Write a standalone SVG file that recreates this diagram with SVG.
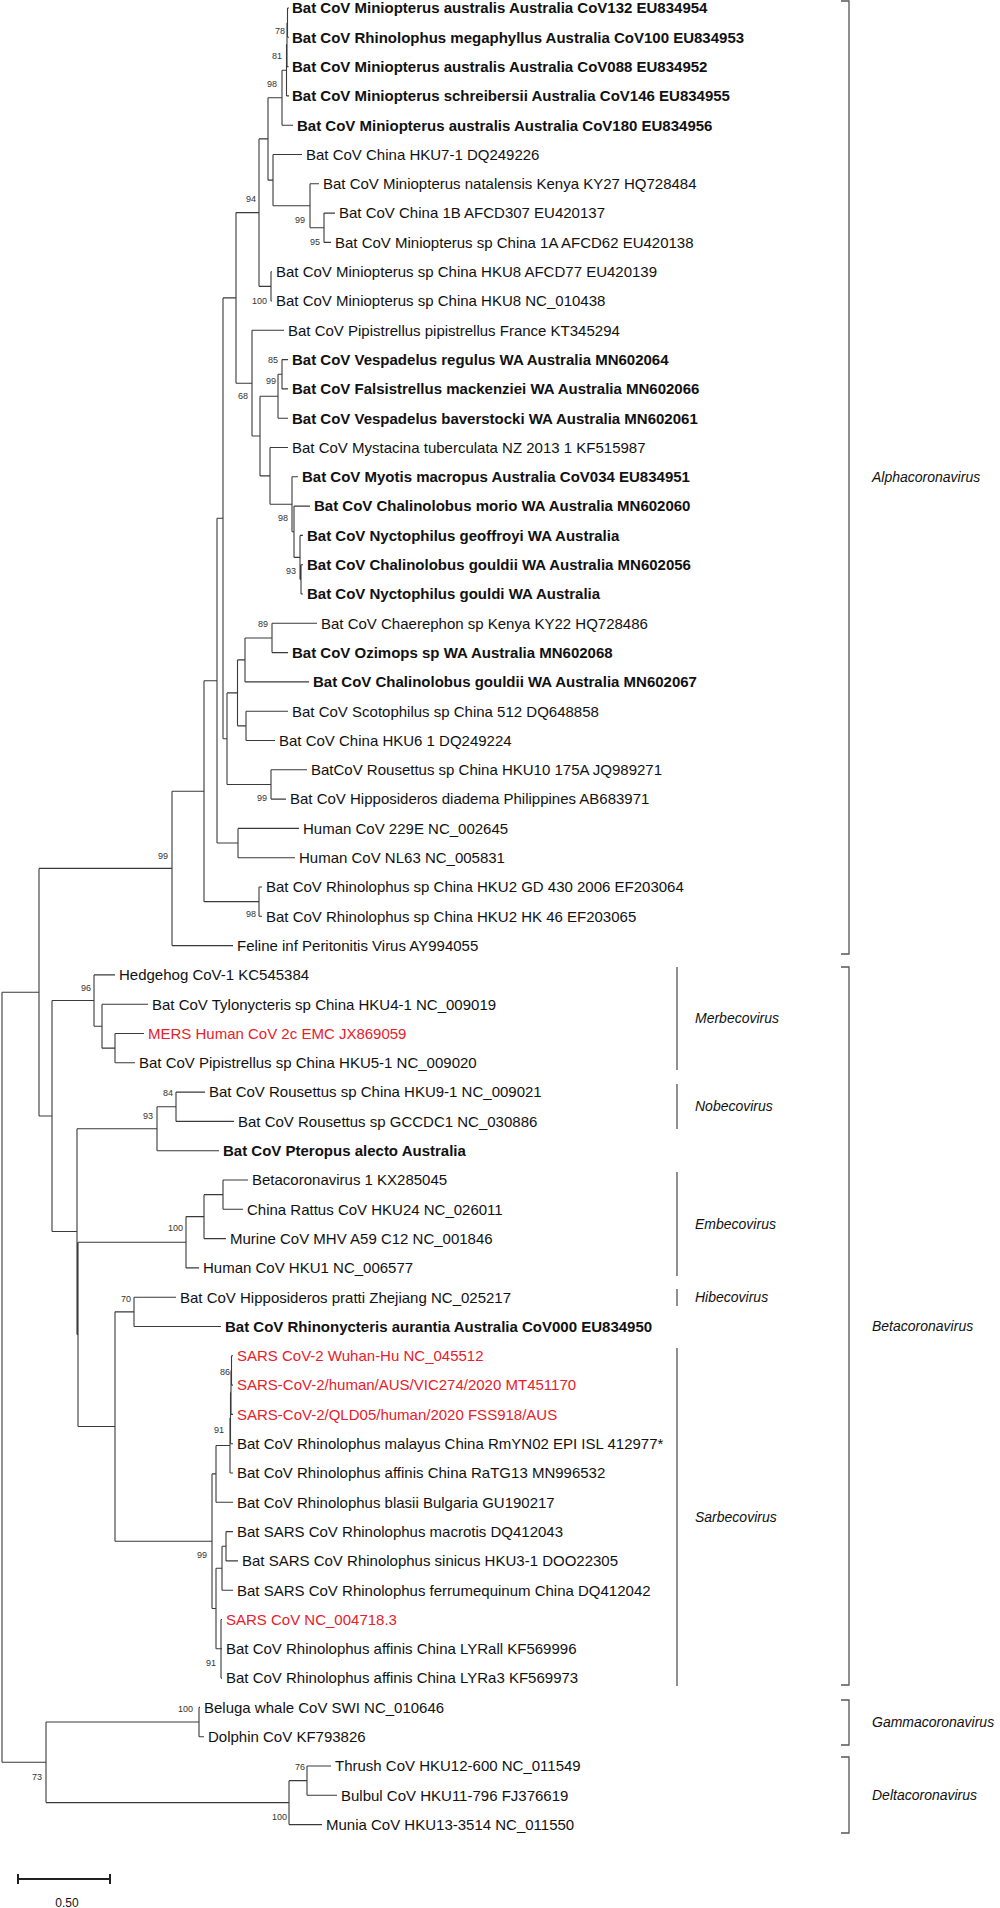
<svg xmlns="http://www.w3.org/2000/svg" width="1000" height="1908" viewBox="0 0 1000 1908">
<style>
text{font-family:"Liberation Sans",Arial,Helvetica,sans-serif;fill:#111}
.t{font-size:15px}
.b{font-size:15px;font-weight:bold}
.r{font-size:15px;fill:#e8202a}
.s{font-size:9px;fill:#333;text-anchor:end}
.g{font-size:14px;font-style:italic}
.br{fill:none;stroke:#3a3a3a;stroke-width:1.1}
.bk{fill:none;stroke:#555;stroke-width:1.3}
</style>
<rect width="1000" height="1908" fill="#fff"/>
<g id="connectors">
<path class="br" d="M287.5 8V37.3M287 22.65V66.6M286.5 44.6V95.9M282 70.25V125.2M324 213.1V242.4M310 183.8V227.75M273 154.5V205.8M268 97.7V180.15M271 271.7V301M259 138.9V286.35M282 359.6V388.9M278 374.25V418.2M301 564.7V594M300 535.4V579.35M294 506.1V557.4M292 476.8V531.75M270 447.5V504.3M260 396.2V475.9M252 330.3V436.05M236 212.6V383.2M272 623.3V652.6M245 637.95V681.9M246 711.2V740.5M237.5 659.9V725.85M271 769.8V799.1M227 692.9V784.45M223 297.9V738.7M238 828.4V857.7M217 518.3V843.05M259 887V916.3M204 680.7V901.65M172 791.2V945.6"/>
<path class="br" d="M287.5 8H289M287.5 37.3H289M287 66.6H288.5M286.5 95.9H289M282 125.2H293M273 154.5H302M310 183.8H319M324 213.1H335M324 242.4H331M271 271.7H272M271 301H272M252 330.3H284M282 359.6H288M282 388.9H288M278 418.2H288M270 447.5H288M292 476.8H298M294 506.1H310M300 535.4H303M301 564.7H303M301 594H303M272 623.3H317M272 652.6H288M245 681.9H309M246 711.2H288M246 740.5H275M271 769.8H307M271 799.1H286M238 828.4H299M238 857.7H295M259 887H262M259 916.3H262M172 945.6H233"/>
<path class="br" d="M287 22.65H287.5M286.5 44.6H287M282 70.25H286.5M268 97.7H282M310 227.75H324M273 205.8H310M268 180.15H273M259 138.9H268M259 286.35H271M236 212.6H259M278 374.25H282M260 396.2H278M300 579.35H301M294 557.4H300M292 531.75H294M270 504.3H292M260 475.9H270M252 436.05H260M236 383.2H252M223 297.9H236M245 637.95H272M237.5 659.9H245M237.5 725.85H246M227 692.9H237.5M227 784.45H271M223 738.7H227M217 518.3H223M217 843.05H238M204 680.7H217M204 901.65H259M172 791.2H204M39 868.4H172"/>
<path class="br" d="M115 1033.5V1062.8M102 1004.2V1048.15M94 974.9V1026.2M176 1092.1V1121.4M157 1106.75V1150.7M223 1180V1209.3M204 1194.65V1238.6M186 1216.6V1267.9M134 1297.2V1326.5M231.5 1355.8V1385.1M231 1370.45V1414.4M230.5 1392.4V1443.7M230 1418.05V1473M216 1445.5V1502.3M226 1531.6V1560.9M222 1546.25V1590.2M221 1619.5V1678.1M216 1568.2V1648.8M212 1473.9V1608.5M115 1311.85V1541.2M78 1242.25V1426.5M77 1128.7V1334.4M52 1000.55V1231.55M39 868.4V1116.05M199 1707.4V1736.7M307 1766V1795.3M289 1780.65V1824.6M46 1722.05V1802.6M2 992.2V1762.3"/>
<path class="br" d="M94 974.9H115M102 1004.2H148M115 1033.5H144M115 1062.8H135M176 1092.1H205M176 1121.4H234M157 1150.7H219M223 1180H248M223 1209.3H243M204 1238.6H226M186 1267.9H199M134 1297.2H176M134 1326.5H221M231.5 1355.8H233M231.5 1385.1H233M231 1414.4H233M230.5 1443.7H233M230 1473H233M216 1502.3H233M226 1531.6H233M226 1560.9H238M222 1590.2H233M221 1619.5H222M221 1648.8H222M221 1678.1H222M199 1707.4H200M199 1736.7H204M307 1766H331M307 1795.3H337M289 1824.6H322"/>
<path class="br" d="M102 1048.15H115M94 1026.2H102M52 1000.55H94M157 1106.75H176M77 1128.7H157M204 1194.65H223M186 1216.6H204M78 1242.25H186M115 1311.85H134M231 1370.45H231.5M230.5 1392.4H231M230 1418.05H230.5M216 1445.5H230M212 1473.9H216M222 1546.25H226M216 1568.2H222M216 1648.8H221M212 1608.5H216M115 1541.2H212M78 1426.5H115M77 1334.4H78M52 1231.55H77M39 1116.05H52M2 992.2H39M46 1722.05H199M289 1780.65H307M46 1802.6H289M2 1762.3H46"/>
</g>
<g id="support">
<text class="s" x="285" y="34">78</text>
<text class="s" x="282" y="59">81</text>
<text class="s" x="277" y="87">98</text>
<text class="s" x="256" y="202">94</text>
<text class="s" x="305" y="223">99</text>
<text class="s" x="320" y="245">95</text>
<text class="s" x="267" y="304">100</text>
<text class="s" x="278" y="363">85</text>
<text class="s" x="276" y="384">99</text>
<text class="s" x="248" y="399">68</text>
<text class="s" x="288" y="521">98</text>
<text class="s" x="296" y="574">93</text>
<text class="s" x="268" y="627">89</text>
<text class="s" x="267" y="801">99</text>
<text class="s" x="168" y="859">99</text>
<text class="s" x="256" y="917">98</text>
<text class="s" x="91" y="991">96</text>
<text class="s" x="173" y="1096">84</text>
<text class="s" x="153" y="1119">93</text>
<text class="s" x="183" y="1231">100</text>
<text class="s" x="131" y="1302">70</text>
<text class="s" x="230" y="1375">86</text>
<text class="s" x="224" y="1433">91</text>
<text class="s" x="207" y="1558">99</text>
<text class="s" x="216" y="1666">91</text>
<text class="s" x="193" y="1712">100</text>
<text class="s" x="42" y="1780">73</text>
<text class="s" x="305" y="1770">76</text>
<text class="s" x="287" y="1820">100</text>
</g>
<g id="leaf-1"><text class="b" x="292" y="13.3">Bat CoV Miniopterus australis Australia CoV132 EU834954</text></g>
<g id="leaf-2"><text class="b" x="292" y="42.6">Bat CoV Rhinolophus megaphyllus Australia CoV100 EU834953</text></g>
<g id="leaf-3"><text class="b" x="292" y="71.9">Bat CoV Miniopterus australis Australia CoV088 EU834952</text></g>
<g id="leaf-4"><text class="b" x="292" y="101.2">Bat CoV Miniopterus schreibersii Australia CoV146 EU834955</text></g>
<g id="leaf-5"><text class="b" x="297" y="130.5">Bat CoV Miniopterus australis Australia CoV180 EU834956</text></g>
<g id="leaf-6"><text class="t" x="306" y="159.8">Bat CoV China HKU7-1 DQ249226</text></g>
<g id="leaf-7"><text class="t" x="323" y="189.1">Bat CoV Miniopterus natalensis Kenya KY27 HQ728484</text></g>
<g id="leaf-8"><text class="t" x="339" y="218.4">Bat CoV China 1B AFCD307 EU420137</text></g>
<g id="leaf-9"><text class="t" x="335" y="247.7">Bat CoV Miniopterus sp China 1A AFCD62 EU420138</text></g>
<g id="leaf-10"><text class="t" x="276" y="277">Bat CoV Miniopterus sp China HKU8 AFCD77 EU420139</text></g>
<g id="leaf-11"><text class="t" x="276" y="306.3">Bat CoV Miniopterus sp China HKU8 NC_010438</text></g>
<g id="leaf-12"><text class="t" x="288" y="335.6">Bat CoV Pipistrellus pipistrellus France KT345294</text></g>
<g id="leaf-13"><text class="b" x="292" y="364.9">Bat CoV Vespadelus regulus WA Australia MN602064</text></g>
<g id="leaf-14"><text class="b" x="292" y="394.2">Bat CoV Falsistrellus mackenziei WA Australia MN602066</text></g>
<g id="leaf-15"><text class="b" x="292" y="423.5">Bat CoV Vespadelus baverstocki WA Australia MN602061</text></g>
<g id="leaf-16"><text class="t" x="292" y="452.8">Bat CoV Mystacina tuberculata NZ 2013 1 KF515987</text></g>
<g id="leaf-17"><text class="b" x="302" y="482.1">Bat CoV Myotis macropus Australia CoV034 EU834951</text></g>
<g id="leaf-18"><text class="b" x="314" y="511.4">Bat CoV Chalinolobus morio WA Australia MN602060</text></g>
<g id="leaf-19"><text class="b" x="307" y="540.7">Bat CoV Nyctophilus geoffroyi WA Australia</text></g>
<g id="leaf-20"><text class="b" x="307" y="570">Bat CoV Chalinolobus gouldii WA Australia MN602056</text></g>
<g id="leaf-21"><text class="b" x="307" y="599.3">Bat CoV Nyctophilus gouldi WA Australia</text></g>
<g id="leaf-22"><text class="t" x="321" y="628.6">Bat CoV Chaerephon sp Kenya KY22 HQ728486</text></g>
<g id="leaf-23"><text class="b" x="292" y="657.9">Bat CoV Ozimops sp WA Australia MN602068</text></g>
<g id="leaf-24"><text class="b" x="313" y="687.2">Bat CoV Chalinolobus gouldii WA Australia MN602067</text></g>
<g id="leaf-25"><text class="t" x="292" y="716.5">Bat CoV Scotophilus sp China 512 DQ648858</text></g>
<g id="leaf-26"><text class="t" x="279" y="745.8">Bat CoV China HKU6 1 DQ249224</text></g>
<g id="leaf-27"><text class="t" x="311" y="775.1">BatCoV Rousettus sp China HKU10 175A JQ989271</text></g>
<g id="leaf-28"><text class="t" x="290" y="804.4">Bat CoV Hipposideros diadema Philippines AB683971</text></g>
<g id="leaf-29"><text class="t" x="303" y="833.7">Human CoV 229E NC_002645</text></g>
<g id="leaf-30"><text class="t" x="299" y="863">Human CoV NL63 NC_005831</text></g>
<g id="leaf-31"><text class="t" x="266" y="892.3">Bat CoV Rhinolophus sp China HKU2 GD 430 2006 EF203064</text></g>
<g id="leaf-32"><text class="t" x="266" y="921.6">Bat CoV Rhinolophus sp China HKU2 HK 46 EF203065</text></g>
<g id="leaf-33"><text class="t" x="237" y="950.9">Feline inf Peritonitis Virus AY994055</text></g>
<g id="leaf-34"><text class="t" x="119" y="980.2">Hedgehog CoV-1 KC545384</text></g>
<g id="leaf-35"><text class="t" x="152" y="1009.5">Bat CoV Tylonycteris sp China HKU4-1 NC_009019</text></g>
<g id="leaf-36"><text class="r" x="148" y="1038.8">MERS Human CoV 2c EMC JX869059</text></g>
<g id="leaf-37"><text class="t" x="139" y="1068.1">Bat CoV Pipistrellus sp China HKU5-1 NC_009020</text></g>
<g id="leaf-38"><text class="t" x="209" y="1097.4">Bat CoV Rousettus sp China HKU9-1 NC_009021</text></g>
<g id="leaf-39"><text class="t" x="238" y="1126.7">Bat CoV Rousettus sp GCCDC1 NC_030886</text></g>
<g id="leaf-40"><text class="b" x="223" y="1156">Bat CoV Pteropus alecto Australia</text></g>
<g id="leaf-41"><text class="t" x="252" y="1185.3">Betacoronavirus 1 KX285045</text></g>
<g id="leaf-42"><text class="t" x="247" y="1214.6">China Rattus CoV HKU24 NC_026011</text></g>
<g id="leaf-43"><text class="t" x="230" y="1243.9">Murine CoV MHV A59 C12 NC_001846</text></g>
<g id="leaf-44"><text class="t" x="203" y="1273.2">Human CoV HKU1 NC_006577</text></g>
<g id="leaf-45"><text class="t" x="180" y="1302.5">Bat CoV Hipposideros pratti Zhejiang NC_025217</text></g>
<g id="leaf-46"><text class="b" x="225" y="1331.8">Bat CoV Rhinonycteris aurantia Australia CoV000 EU834950</text></g>
<g id="leaf-47"><text class="r" x="237" y="1361.1">SARS CoV-2 Wuhan-Hu NC_045512</text></g>
<g id="leaf-48"><text class="r" x="237" y="1390.4">SARS-CoV-2/human/AUS/VIC274/2020 MT451170</text></g>
<g id="leaf-49"><text class="r" x="237" y="1419.7">SARS-CoV-2/QLD05/human/2020 FSS918/AUS</text></g>
<g id="leaf-50"><text class="t" x="237" y="1449">Bat CoV Rhinolophus malayus China RmYN02 EPI ISL 412977*</text></g>
<g id="leaf-51"><text class="t" x="237" y="1478.3">Bat CoV Rhinolophus affinis China RaTG13 MN996532</text></g>
<g id="leaf-52"><text class="t" x="237" y="1507.6">Bat CoV Rhinolophus blasii Bulgaria GU190217</text></g>
<g id="leaf-53"><text class="t" x="237" y="1536.9">Bat SARS CoV Rhinolophus macrotis DQ412043</text></g>
<g id="leaf-54"><text class="t" x="242" y="1566.2">Bat SARS CoV Rhinolophus sinicus HKU3-1 DOO22305</text></g>
<g id="leaf-55"><text class="t" x="237" y="1595.5">Bat SARS CoV Rhinolophus ferrumequinum China DQ412042</text></g>
<g id="leaf-56"><text class="r" x="226" y="1624.8">SARS CoV NC_004718.3</text></g>
<g id="leaf-57"><text class="t" x="226" y="1654.1">Bat CoV Rhinolophus affinis China LYRall KF569996</text></g>
<g id="leaf-58"><text class="t" x="226" y="1683.4">Bat CoV Rhinolophus affinis China LYRa3 KF569973</text></g>
<g id="leaf-59"><text class="t" x="204" y="1712.7">Beluga whale CoV SWI NC_010646</text></g>
<g id="leaf-60"><text class="t" x="208" y="1742">Dolphin CoV KF793826</text></g>
<g id="leaf-61"><text class="t" x="335" y="1771.3">Thrush CoV HKU12-600 NC_011549</text></g>
<g id="leaf-62"><text class="t" x="341" y="1800.6">Bulbul CoV HKU11-796 FJ376619</text></g>
<g id="leaf-63"><text class="t" x="326" y="1829.9">Munia CoV HKU13-3514 NC_011550</text></g>
<g id="clades">
<path class="bk" d="M841 1H849V954H841M841 967H849V1685H841M841 1700H849V1745H841M841 1757H849V1833H841"/>
<path class="bk" d="M677 967V1070M677 1084V1129M677 1172V1276M677 1289V1306M677 1348V1686"/>
<text class="g" x="872" y="482">Alphacoronavirus</text>
<text class="g" x="872" y="1331">Betacoronavirus</text>
<text class="g" x="872" y="1727">Gammacoronavirus</text>
<text class="g" x="872" y="1800">Deltacoronavirus</text>
<text class="g" x="695" y="1023">Merbecovirus</text>
<text class="g" x="695" y="1111">Nobecovirus</text>
<text class="g" x="695" y="1229">Embecovirus</text>
<text class="g" x="695" y="1302">Hibecovirus</text>
<text class="g" x="695" y="1522">Sarbecovirus</text>
</g>
<g id="scale">
<path fill="none" stroke="#222" stroke-width="2" d="M18 1879H110M18 1874V1884M110 1874V1884"/>
<text x="67" y="1907" font-size="12" text-anchor="middle">0.50</text>
</g>
</svg>
